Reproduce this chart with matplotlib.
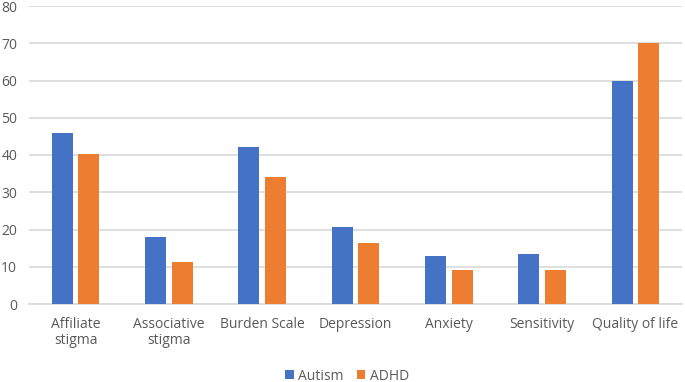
import matplotlib
matplotlib.use("Agg")
import matplotlib.pyplot as plt
import numpy as np

categories = ["Affiliate\nstigma", "Associative\nstigma", "Burden Scale", "Depression",
              "Anxiety", "Sensitivity", "Quality of life"]
autism = [45.8, 18.0, 42.1, 20.8, 12.9, 13.4, 60.0]
adhd = [40.4, 11.4, 34.0, 16.3, 9.1, 9.1, 70.1]
yticks = [0, 10, 20, 30, 40, 50, 60, 70, 80]

plt.rcParams['font.family'] = ['Open Sans', 'DejaVu Sans']

fig = plt.figure(figsize=(6.85, 3.82), dpi=100)
ax = fig.add_axes([29/685, 1 - 304/382, (682-29)/685, (304-6)/382])

x = np.arange(len(categories))
w = 0.225
gap = 0.03
ax.bar(x - w/2 - gap, autism, w, color="#4472C4", label="Autism", zorder=3)
ax.bar(x + w/2 + gap, adhd, w, color="#ED7D31", label="ADHD", zorder=3)

ax.set_xlim(-0.5, len(categories) - 0.5)
ax.set_ylim(0, 80)
ax.set_yticks(yticks)
ax.set_xticks(x)
ax.set_xticklabels(categories, linespacing=1.1)
ax.yaxis.grid(True, color="#D9D9D9", linewidth=1.2, zorder=0)
ax.set_axisbelow(True)
for s in ["top", "right", "left"]:
    ax.spines[s].set_visible(False)
ax.spines["bottom"].set_color("#D9D9D9")
ax.spines["bottom"].set_linewidth(1.2)
ax.tick_params(axis="both", length=0, labelsize=10, colors="#595959")
ax.tick_params(axis="x", pad=9)
ax.tick_params(axis="y", pad=8.5)

leg = fig.legend(loc="center", bbox_to_anchor=(347/685, 1 - 376/382), ncol=2, frameon=False,
                 fontsize=10, handlelength=0.6, handleheight=0.6, handletextpad=0.3,
                 columnspacing=1.0, borderpad=0)
for t in leg.get_texts():
    t.set_color("#595959")

fig.savefig("out.png", dpi=100)
